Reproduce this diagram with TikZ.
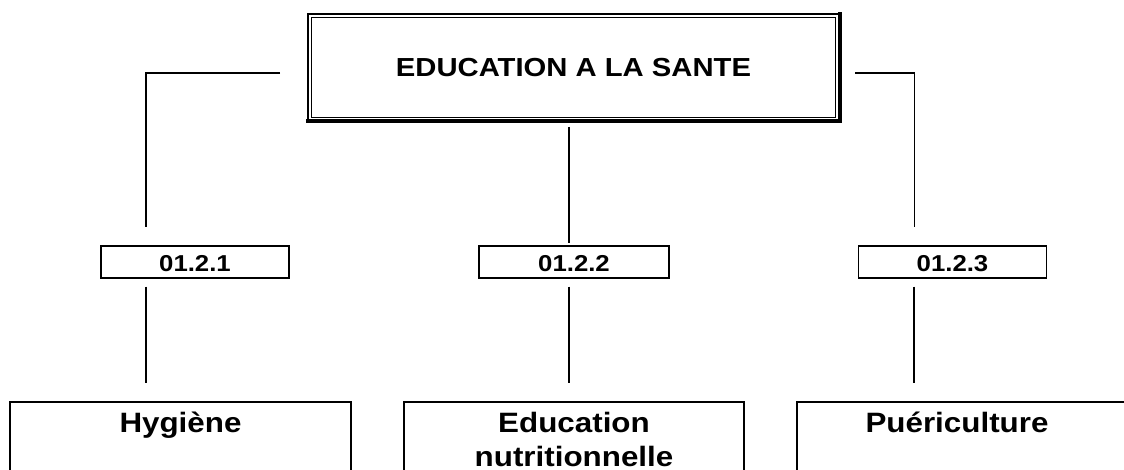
\documentclass[tikz,border=0pt]{standalone}
\usepackage{fontspec}
\setmainfont[FakeStretch=1.12]{Liberation Sans}
\begin{document}
\begin{tikzpicture}[x=1pt,y=-1pt,
  conn/.style={line width=1.6pt},
  titlebox/.style={draw,line width=2pt,inner sep=0pt,minimum width=530.4pt,minimum height=105.8pt,
    text height=62.5pt,text depth=43.3pt,font=\fontsize{26.1}{30}\selectfont\bfseries},
  codebox/.style={draw,line width=1.8pt,inner sep=0pt,minimum height=32pt,
    text height=26.2pt,text depth=5.8pt,font=\fontsize{23}{27}\selectfont\bfseries},
  openbox/.style={line width=2pt},
  labeltext/.style={inner sep=0pt,anchor=base,font=\fontsize{28}{35}\selectfont\bfseries}
]
\useasboundingbox (0,0) rectangle (1124,470);
\clip (0,0) rectangle (1124,470);

% title
\node[titlebox] (t) at (573.5,67.4) {EDUCATION A LA SANTE};
\draw[line width=1pt] ([shift={(4,4)}]t.north west) rectangle ([shift={(-4,-4)}]t.south east);
\draw[line width=3.8pt] ([xshift=-1pt]t.south west) -- (t.south east) -- ([yshift=1pt]t.north east);

% code boxes
\node[codebox,minimum width=188.5pt] (c1) at (195,261.8) {01.2.1};
\node[codebox,minimum width=189.6pt] (c2) at (574,261.8) {01.2.2};
\node[codebox,minimum width=188pt] (c3) at (952.5,261.8) {01.2.3};

% connectors top
\coordinate (lh) at (280,72.8);
\coordinate (lv) at (145.8,226.7);
\coordinate (rh) at (855,72.8);
\coordinate (rv) at (914.3,226.7);
\coordinate (mt) at (569,127);
\coordinate (mb) at (569,242.7);
\draw[conn] (lh) -| (lv);
\draw[conn] (rh) -| (rv);
\draw[conn] (mt) -- (mb);

% bottom boxes (open at the bottom)
\coordinate (b1tl) at (10.3,402.3);
\coordinate (b1tr) at (350.8,402.3);
\coordinate (b2tl) at (404.2,402.3);
\coordinate (b2tr) at (743.8,402.3);
\coordinate (b3tl) at (796.8,402.3);
\coordinate (b3tr) at (1140,402.3);
\draw[openbox] (10.3,480) -- (b1tl) -- (b1tr) -- (350.8,480);
\draw[openbox] (404.2,480) -- (b2tl) -- (b2tr) -- (743.8,480);
\draw[openbox] (796.8,480) -- (b3tl) -- (b3tr);

\node[labeltext] (h) at (180.5,432) {Hygiène};
\node[labeltext] (e1) at (574,432.5) {Education};
\node[labeltext] (e2) at (574,466) {nutritionnelle};
\node[labeltext] (p) at (957,432) {Puériculture};

% lower connectors
\coordinate (d1t) at (145.7,286.7);
\coordinate (d1b) at (145.7,383.3);
\coordinate (d2t) at (569,286.7);
\coordinate (d2b) at (569,383.3);
\coordinate (d3t) at (914,286.7);
\coordinate (d3b) at (914,383.3);
\draw[conn] (d1t) -- (d1b);
\draw[conn] (d2t) -- (d2b);
\draw[conn] (d3t) -- (d3b);
\end{tikzpicture}
\end{document}
